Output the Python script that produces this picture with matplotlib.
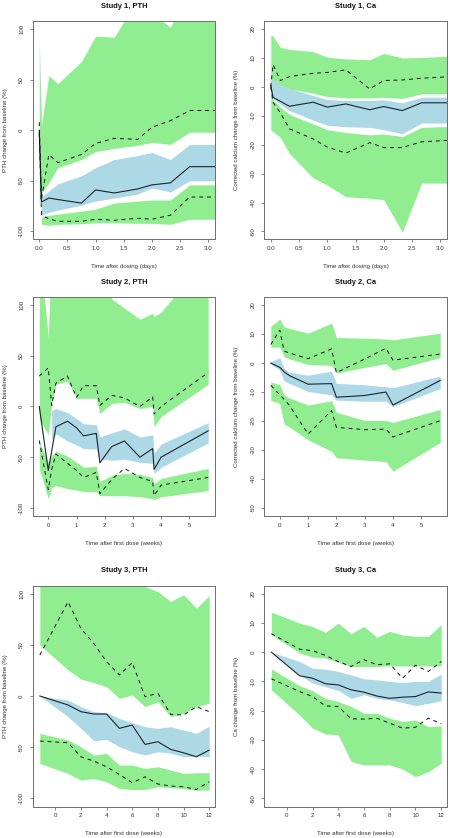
import numpy as np
import matplotlib
matplotlib.use("Agg")
import matplotlib.pyplot as plt

nan = np.nan

# ---------------- Study 1 (days) ----------------
s1_t = [0, 0.04, 0.17, 0.33, 0.75, 1.0, 1.33, 1.75, 2.0, 2.33, 2.67, 3.15]

s1p_med = [0, -71, -67, -68.5, -72, -59, -62, -58, -54, -52, -36, -36]
s1p_p95 = [8, -68, -24, -32, -24, -13, -8, -9, 3, 9.5, 19.5, 19.5]
s1p_p5 = [-3, -84, -87.5, -90, -90, -88, -89, -87, -88, -84, -66, -66]
s1p_hi_top = [89, 5, 54, 46, 68, 93, 92, 130, 116, 101.6, 145, 140]
s1p_hi_bot = [-75, -62, -52, -37, -29, -21, -18, -15, -12, -14, -2, -2]
s1p_md_top = [nan, -66, -60, -53, -45, -37, -29, -25, -22, -29, -14, -14]
s1p_md_bot = [nan, -84, -81, -79, -74, -70, -67, -63, -57, -61, -50, -50]
s1p_lo_top = [nan, -86, -84, -83, -80, -78, -72, -70, -69, -69, -54, -54]
s1p_lo_bot = [nan, -93, -94, -93, -92.5, -91.5, -91.5, -92, -92, -93, -88, -88]

s1c_med = [0.5, -3.6, -5, -6.7, -5.3, -7, -5.9, -7.9, -6.8, -8.2, -5.5, -5.5]
s1c_p95 = [0, 7.7, 2.2, 3.6, 4.7, 5, 5.9, -0.7, 2.2, 2.4, 3, 3.5]
s1c_p5 = [0, -5.3, -9, -14.5, -18, -20.8, -22.9, -19.3, -21, -21, -19, -18.5]
s1c_hi_top = [18, 17.5, 13.7, 13, 12.2, 10.3, 9.7, 9.4, 11.6, 10, 10.2, 10.6]
s1c_hi_bot = [1, 1.5, 0.5, -0.7, -2.2, -3.3, -3.8, -3.8, -3.6, -4, -2.4, -2.4]
s1c_md_top = [3, 2.5, 0.8, -0.5, -3, -4.4, -4.7, -4.7, -4.5, -5.5, -3.6, -3.6]
s1c_md_bot = [-2, -4, -6, -8.2, -11.5, -13.3, -13.8, -14, -14.8, -16.2, -12.5, -12.5]
s1c_lo_top = [-1, -4.5, -7, -9.5, -12.8, -14.8, -15.8, -16.6, -16.3, -17.2, -14, -13.7]
s1c_lo_bot = [-15, -15.5, -17.5, -23, -31.5, -34, -38, -38.5, -39, -50.3, -33.3, -33.3]

# ---------------- Study 2 (weeks) ----------------
s2p_t = [-0.32, 0.0, 0.12, 0.27, 0.68, 1.0, 1.25, 1.7, 1.83, 2.25, 2.7, 3.25, 3.7, 3.75, 4.0, 5.67]
s2p_med = [0, -63, -44, -20, -14.5, -21, -29, -26.5, -55.5, -39.5, -34, -50, -41.5, -62, -50, -24]
s2p_p95 = [30, 38, 1, 23, 30, 9, 20.5, 20.5, 1, 11, 8.5, 0, 9.5, -7.5, 0, 33.5]
s2p_p5 = [-33.5, -82, -62, -47, -56, -63, -70, -65, -86, -72, -61, -70, -74, -88, -77.5, -70]
s2p_hi_top = [160, 68, 160, 160, 160, 160, 160, 150, 140, 106, 97, 86, 92, 89, 93, 150]
s2p_hi_bot = [-12, -28, 3, 22, 25, 8, 8, 8, -7, 3, 4, -2, 0, -20, -10, 22]
s2p_md_top = [nan, nan, -4, -2, -6, -12, -17, -18, -30, -26, -22, -30, -28, -46, -37, -16]
s2p_md_bot = [nan, nan, -33, -27, -34, -38, -41.6, -42, -52, -53, -52, -55, -56, -66, -60, -36]
s2p_lo_top = [-35, -55, -48, -44, -49, -55, -60, -59, -74, -68, -66, -67, -70, -76, -71, -61]
s2p_lo_bot = [-61, -91, -80, -78, -81, -82.5, -84, -84, -88, -88, -88, -89, -91, -92, -89, -83]

s2c_t = [-0.32, 0, 0.15, 0.33, 1.0, 1.83, 2.0, 3.0, 3.75, 4.0, 5.67]
s2c_med = [0, -1.5, -3, -4.3, -7.3, -7.1, -11.8, -11.2, -10, -14.5, -6]
s2c_p95 = [6.4, 11.4, 4.1, 3.5, 1.5, 4.9, -3.3, 1.4, 5.1, 1, 3.1]
s2c_p5 = [-7.7, -11, -12.5, -14.5, -24.5, -16.4, -22.2, -23, -22.8, -25.5, -19.9]
s2c_hi_top = [12.7, 15.2, 12.5, 12, 10.3, 13.8, 8.8, 8.6, 8.3, 8, 10.3]
s2c_hi_bot = [5.5, 5.5, 2.2, 1.5, -0.5, -0.8, -3.5, -1.5, -0.2, -2.5, 1.9]
s2c_md_top = [0.5, 1.8, -1.9, -3.2, -4.2, -2.8, -7, -7.5, -8.2, -8.5, -4.5]
s2c_md_bot = [-0.5, -2.4, -6.2, -7, -9.8, -11, -12.8, -13.2, -13.2, -15, -8.8]
s2c_lo_top = [-6.5, -7.5, -11, -12, -14.5, -13, -17, -19.8, -19.8, -20.5, -16]
s2c_lo_bot = [-12.9, -14, -21, -22, -26.5, -30.5, -32.7, -33.5, -34, -37.3, -27.4]

# ---------------- Study 3 (weeks) ----------------
s3_t = [-1.2, 1, 2, 3, 4, 5, 6, 7, 8, 9, 10, 11, 12]
s3p_med = [0, -8.8, -15.3, -17.6, -17.6, -31.6, -28.4, -47.3, -44.7, -52.2, -55.5, -59.4, -52.9]
s3p_p95 = [40, 92, 66, 51.5, 33.6, 20.5, 32.6, -0.7, 2.6, -18, -18.6, -10.4, -15.3]
s3p_p5 = [-44, -45.7, -59.4, -63.6, -69.2, -76.7, -84.8, -79, -86, -88, -88.7, -91.4, -83.8]
s3p_hi_top = [160, 160, 160, 160, 160, 140, 120, 107, 102, 92.3, 99, 85.8, 98]
s3p_hi_bot = [50, 25.4, 16.6, 13, 9, -2.3, 1, -10.4, -5.5, -20.2, -17, -10.4, -7.2]
s3p_md_top = [0, -4, -10.4, -15.3, -16.3, -21.9, -26.1, -30, -31.6, -30, -33.3, -36.5, -29.4]
s3p_md_bot = [0, -20.2, -31.6, -43.7, -42.4, -49.6, -54.5, -57.7, -54.5, -56, -59.4, -58.7, -59.4]
s3p_lo_top = [-36.5, -43, -49.6, -57.7, -56, -67.5, -67.5, -70.8, -69.2, -72.4, -75.7, -75, -75]
s3p_lo_bot = [-65.9, -75.7, -82.2, -80.6, -83.8, -90.4, -91.4, -91.4, -88.7, -89.7, -90.4, -92, -92]

s3c_med = [0, -8.1, -8.9, -10.8, -11.2, -12.9, -13.7, -15, -15.8, -15.4, -15.2, -13.6, -14]
s3c_p95 = [6.3, 1, 0.5, -1.1, -3.2, -4.9, -2.6, -4.3, -4, -8.9, -4.5, -6.6, -3.2]
s3c_p5 = [-9.1, -13.5, -15.2, -18.4, -18.6, -22.8, -22.9, -22.6, -24.3, -26, -25.7, -22.6, -24.5]
s3c_hi_top = [13.7, 9.9, 8.8, 6.8, 9.9, 6.3, 8.8, 5.1, 7.1, 5.9, 5.4, 5.4, 9.4]
s3c_hi_bot = [6, -0.3, -1.7, -2, -3.5, -4.9, -4.9, -4.9, -4.7, -4.7, -4.7, -4.7, -4.7]
s3c_md_top = [0, -3.2, -5.5, -5.8, -6.6, -7.8, -9.1, -9.5, -10, -10.4, -10, -10, -7.5]
s3c_md_bot = [0, -7.8, -10.6, -11.8, -13.1, -15.8, -14.6, -15.8, -16.3, -17.2, -18.3, -17.5, -16.6]
s3c_lo_top = [-5.7, -11.5, -13.2, -15.8, -16.9, -18.6, -20.9, -20.9, -22.6, -23.7, -23.2, -25.5, -25.2]
s3c_lo_bot = [-12.9, -21.5, -26, -28, -28.3, -37.4, -38.6, -38.6, -38.6, -40, -42.6, -40.9, -38]

# ---------------- axis text ----------------
titles = ["Study 1, PTH", "Study 1, Ca", "Study 2, PTH", "Study 2, Ca", "Study 3, PTH", "Study 3, Ca"]
xlabels = ["Time after dosing (days)", "Time after dosing (days)",
           "Time after first dose (weeks)", "Time after first dose (weeks)",
           "Time after first dose (weeks)", "Time after first dose (weeks)"]
ylabels = ["PTH change from baseline (%)", "Corrected calcium change from baseline (%)",
           "PTH change from baseline (%)", "Corrected calcium change from baseline (%)",
           "PTH change from baseline (%)", "Ca change from baseline (%)"]
xt_days = [0, 0.5, 1.0, 1.5, 2.0, 2.5, 3.0]
xt_days_lbl = ["0.0", "0.5", "1.0", "1.5", "2.0", "2.5", "3.0"]
xt_wk2 = [0, 1, 2, 3, 4, 5]
xt_wk2_lbl = ["0", "1", "2", "3", "4", "5"]
xt_wk3 = [0, 2, 4, 6, 8, 10, 12]
xt_wk3_lbl = ["0", "2", "4", "6", "8", "10", "12"]
yt_pth = [100, 50, 0, -50, -100]
yt_pth_lbl = ["100", "50", "0", "-50", "-100"]
yt_ca = [20, 10, 0, -10, -20, -30, -40, -50]
yt_ca_lbl = ["20", "10", "0", "-10", "-20", "-30", "-40", "-50"]

GREEN = "#90EE90"
BLUE = "#ADD8E6"
AXC = "#6e6e6e"
TXC = "#333333"

plt.rcParams["font.family"] = ["Liberation Sans", "DejaVu Sans"]

W, H = 450.0, 838.0
fig = plt.figure(figsize=(W / 100, H / 100), dpi=100)
fig.patch.set_facecolor("white")

# pixel boxes (left, top, right, bottom)
cols = [(32.5, 215.0), (264.0, 447.0)]
rows = [(21.0, 239.5), (297.0, 516.0), (585.5, 806.5)]

panels = [
    (s1_t, s1p_med, s1p_p95, s1p_p5, s1p_hi_top, s1p_hi_bot, s1p_md_top, s1p_md_bot, s1p_lo_top, s1p_lo_bot,
     (-0.12, 3.12), (-108, 108), xt_days, xt_days_lbl, yt_pth, yt_pth_lbl),
    (s1_t, s1c_med, s1c_p95, s1c_p5, s1c_hi_top, s1c_hi_bot, s1c_md_top, s1c_md_bot, s1c_lo_top, s1c_lo_bot,
     (-0.12, 3.12), (-52.8, 22.8), xt_days, xt_days_lbl, yt_ca, yt_ca_lbl),
    (s2p_t, s2p_med, s2p_p95, s2p_p5, s2p_hi_top, s2p_hi_bot, s2p_md_top, s2p_md_bot, s2p_lo_top, s2p_lo_bot,
     (-0.56, 5.91), (-108, 108), xt_wk2, xt_wk2_lbl, yt_pth, yt_pth_lbl),
    (s2c_t, s2c_med, s2c_p95, s2c_p5, s2c_hi_top, s2c_hi_bot, s2c_md_top, s2c_md_bot, s2c_lo_top, s2c_lo_bot,
     (-0.56, 5.91), (-52.8, 22.8), xt_wk2, xt_wk2_lbl, yt_ca, yt_ca_lbl),
    (s3_t, s3p_med, s3p_p95, s3p_p5, s3p_hi_top, s3p_hi_bot, s3p_md_top, s3p_md_bot, s3p_lo_top, s3p_lo_bot,
     (-1.77, 12.45), (-108, 108), xt_wk3, xt_wk3_lbl, yt_pth, yt_pth_lbl),
    (s3_t, s3c_med, s3c_p95, s3c_p5, s3c_hi_top, s3c_hi_bot, s3c_md_top, s3c_md_bot, s3c_lo_top, s3c_lo_bot,
     (-1.77, 12.45), (-52.8, 22.8), xt_wk3, xt_wk3_lbl, yt_ca, yt_ca_lbl),
]

for i, p in enumerate(panels):
    (t, med, p95, p5, hi_top, hi_bot, md_top, md_bot, lo_top, lo_bot,
     xlim, ylim, xt, xtl, yt, ytl) = p
    r, c = divmod(i, 2)
    x0, x1 = cols[c]
    y0, y1 = rows[r]
    ax = fig.add_axes([x0 / W, 1 - y1 / H, (x1 - x0) / W, (y1 - y0) / H])
    t = np.asarray(t, float)
    ax.fill_between(t, np.asarray(hi_bot, float), np.asarray(hi_top, float), color=GREEN, lw=0, zorder=1)
    ax.fill_between(t, np.asarray(lo_bot, float), np.asarray(lo_top, float), color=GREEN, lw=0, zorder=1)
    ax.fill_between(t, np.asarray(md_bot, float), np.asarray(md_top, float), color=BLUE, lw=0, zorder=2)
    ax.plot(t, med, color="#1c2330", lw=0.8, zorder=4)
    ax.plot(t, p95, color="#111111", lw=0.7, ls=(0, (4, 4)), zorder=4)
    ax.plot(t, p5, color="#111111", lw=0.7, ls=(0, (4, 4)), zorder=4)
    ax.set_xlim(*xlim)
    ax.set_ylim(*ylim)
    ax.set_xticks(xt)
    ax.set_xticklabels(xtl)
    ax.set_yticks(yt)
    ax.set_yticklabels(ytl, rotation=90, va="center")
    ax.tick_params(direction="out", length=2.4, width=0.6, colors=AXC, labelcolor=TXC, labelsize=4.4)
    ax.tick_params(axis="x", pad=2.6)
    ax.tick_params(axis="y", pad=3.6)
    for s in ax.spines.values():
        s.set_color(AXC)
        s.set_linewidth(0.7)
    ax.set_facecolor("white")
    cx = (x0 + x1) / 2
    fig.text(cx / W, 1 - (y0 - 15.0) / H, titles[i], ha="center", va="center",
             fontsize=5.4, fontweight="bold", color="#111111")
    fig.text(cx / W, 1 - (y1 + 27.0) / H, xlabels[i], ha="center", va="center",
             fontsize=4.4, color=TXC)
    fig.text((x0 - 27.3) / W, 1 - ((y0 + y1) / 2) / H, ylabels[i], ha="center", va="center",
             rotation=90, fontsize=4.4, color=TXC)

fig.savefig("out.png", dpi=100, facecolor="white")
